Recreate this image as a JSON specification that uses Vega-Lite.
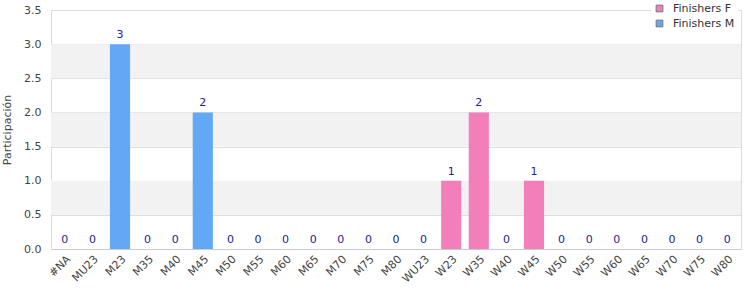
{
  "$schema": "https://vega.github.io/schema/vega-lite/v6.json",
  "autosize": "none",
  "width": 690,
  "height": 239,
  "padding": {"left": 51, "top": 10, "right": 9, "bottom": 51},
  "config": {
    "font": "DejaVu Sans",
    "view": {"stroke": "#dddddd", "strokeWidth": 1},
    "axis": {"labelFont": "DejaVu Sans", "titleFont": "DejaVu Sans", "labelColor": "#444444", "titleColor": "#444444", "labelFontSize": 11, "titleFontSize": 11, "titleFontWeight": "normal"},
    "axisY": {"title": "Participación", "values": [0, 0.5, 1, 1.5, 2, 2.5, 3, 3.5], "format": ".1f", "labelOverlap": false, "ticks": false, "domain": false, "gridColor": "#dddddd", "labelPadding": 10, "titlePadding": 11}
  },
  "datasets": {
    "bars": [
      {"cat": "#NA", "value": 0, "series": "Finishers M"},
      {"cat": "MU23", "value": 0, "series": "Finishers M"},
      {"cat": "M23", "value": 3, "series": "Finishers M"},
      {"cat": "M35", "value": 0, "series": "Finishers M"},
      {"cat": "M40", "value": 0, "series": "Finishers M"},
      {"cat": "M45", "value": 2, "series": "Finishers M"},
      {"cat": "M50", "value": 0, "series": "Finishers M"},
      {"cat": "M55", "value": 0, "series": "Finishers M"},
      {"cat": "M60", "value": 0, "series": "Finishers M"},
      {"cat": "M65", "value": 0, "series": "Finishers M"},
      {"cat": "M70", "value": 0, "series": "Finishers M"},
      {"cat": "M75", "value": 0, "series": "Finishers M"},
      {"cat": "M80", "value": 0, "series": "Finishers M"},
      {"cat": "WU23", "value": 0, "series": "Finishers F"},
      {"cat": "W23", "value": 1, "series": "Finishers F"},
      {"cat": "W35", "value": 2, "series": "Finishers F"},
      {"cat": "W40", "value": 0, "series": "Finishers F"},
      {"cat": "W45", "value": 1, "series": "Finishers F"},
      {"cat": "W50", "value": 0, "series": "Finishers F"},
      {"cat": "W55", "value": 0, "series": "Finishers F"},
      {"cat": "W60", "value": 0, "series": "Finishers F"},
      {"cat": "W65", "value": 0, "series": "Finishers F"},
      {"cat": "W70", "value": 0, "series": "Finishers F"},
      {"cat": "W75", "value": 0, "series": "Finishers F"},
      {"cat": "W80", "value": 0, "series": "Finishers F"}
    ],
    "bands": [
      {"from": 0.5, "to": 1.0},
      {"from": 1.5, "to": 2.0},
      {"from": 2.5, "to": 3.0}
    ]
  },
  "layer": [
    {
      "data": {"name": "bands"},
      "mark": {"type": "rect", "color": "#f2f2f2"},
      "encoding": {
        "y": {"field": "from", "type": "quantitative", "scale": {"domain": [0, 3.5], "nice": false}, "title": "Participación"},
        "y2": {"field": "to"}
      }
    },
    {
      "data": {"name": "bars"},
      "layer": [
        {
          "mark": {"type": "bar"},
          "encoding": {
            "x": {"field": "cat", "type": "nominal", "sort": null, "scale": {"paddingInner": 0.27, "paddingOuter": 0.135},
              "axis": {"title": null, "labelAngle": -45, "labelOverlap": false, "ticks": false, "domainColor": "#cccccc", "labelPadding": 4}},
            "y": {"field": "value", "type": "quantitative", "title": "Participación"},
            "color": {"field": "series", "type": "nominal",
              "scale": {"domain": ["Finishers F", "Finishers M"], "range": ["#f27fba", "#62a8f4"]},
              "legend": {"title": null, "orient": "none", "legendX": 600, "legendY": -10, "fillColor": "white", "padding": 3, "labelFont": "DejaVu Sans", "labelFontSize": 11, "labelColor": "#333333", "symbolType": "square", "symbolSize": 45, "symbolStrokeColor": "#777777", "symbolStrokeWidth": 1, "rowPadding": 3, "labelOffset": 8}}
          }
        },
        {
          "mark": {"type": "text", "baseline": "middle", "dy": -9, "fontSize": 11, "color": "#22228f"},
          "encoding": {
            "x": {"field": "cat", "type": "nominal", "sort": null},
            "y": {"field": "value", "type": "quantitative", "title": "Participación"},
            "text": {"field": "value", "type": "quantitative"}
          }
        }
      ]
    }
  ]
}
